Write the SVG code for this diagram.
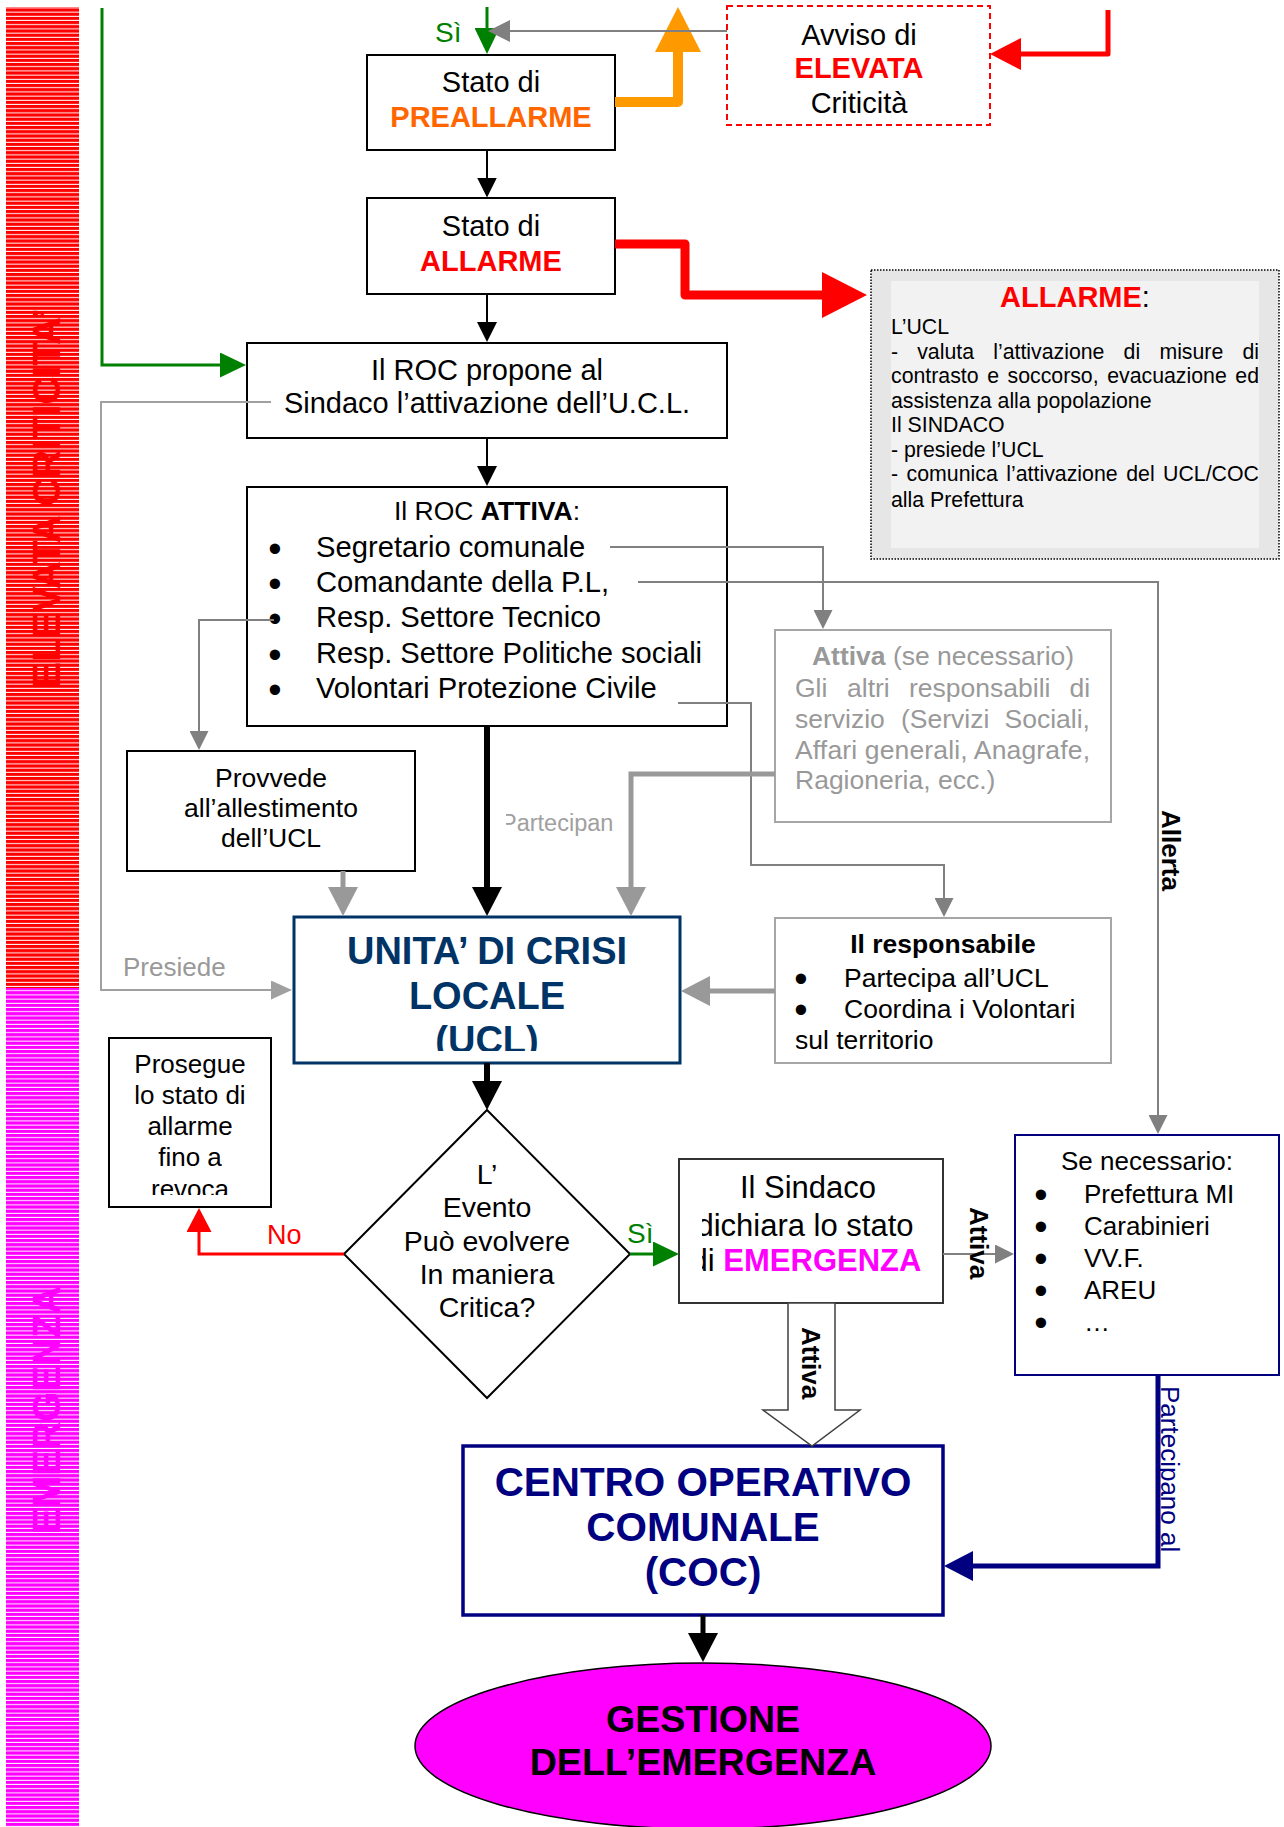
<svg xmlns="http://www.w3.org/2000/svg" width="1284" height="1827" viewBox="0 0 1284 1827">
  <style>
    text { font-family: "Liberation Sans", Arial, sans-serif; fill: #000; }
    .b { font-weight: bold; }
    .mid { text-anchor: middle; }
    .box { fill: #fff; stroke: #000; stroke-width: 2; }
    .gbox { fill: #fff; stroke: #a6a6a6; stroke-width: 2; }
    .ln { fill: none; stroke-linejoin: miter; }
    .thin-k { stroke: #000; stroke-width: 2; }
    .thick-k { stroke: #000; stroke-width: 6; }
    .thin-g { stroke: #808080; stroke-width: 2; }
    .thin-lg { stroke: #a0a0a0; stroke-width: 2; }
    .thick-g { stroke: #999; stroke-width: 5; }
    .grn { stroke: #008000; stroke-width: 3; }
    .gray-t { fill: #999; }
    .bul { font-size: 38px; }
  </style>
  <defs>
    <pattern id="stripes-red" width="10" height="4.2" patternUnits="userSpaceOnUse">
      <rect width="10" height="4.2" fill="#ff0000"/>
      <rect y="3.2" width="10" height="1" fill="#fff"/>
    </pattern>
    <pattern id="stripes-mag" width="10" height="4.2" patternUnits="userSpaceOnUse">
      <rect width="10" height="4.2" fill="#ff00ff"/>
      <rect y="3.2" width="10" height="1" fill="#fff"/>
    </pattern>
    <marker id="m-blk" markerUnits="userSpaceOnUse" markerWidth="20" markerHeight="20" viewBox="0 -10 20 20" refX="0.5" refY="0" orient="auto"><path d="M0,-10 L20,0 L0,10 z" fill="#000"/></marker>
    <marker id="m-blk-big" markerUnits="userSpaceOnUse" markerWidth="29" markerHeight="30" viewBox="0 -15 29 30" refX="0.5" refY="0" orient="auto"><path d="M0,-15 L29,0 L0,15 z" fill="#000"/></marker>
    <marker id="m-gry" markerUnits="userSpaceOnUse" markerWidth="19" markerHeight="19" viewBox="0 -9.5 19 19" refX="0.5" refY="0" orient="auto"><path d="M0,-9.5 L19,0 L0,9.5 z" fill="#808080"/></marker>
    <marker id="m-gry-top" markerUnits="userSpaceOnUse" markerWidth="22" markerHeight="22" viewBox="0 -11 22 22" refX="0.5" refY="0" orient="auto"><path d="M0,-11 L22,0 L0,11 z" fill="#808080"/></marker>
    <marker id="m-gry-lt" markerUnits="userSpaceOnUse" markerWidth="21" markerHeight="19" viewBox="0 -9.5 21 19" refX="0.5" refY="0" orient="auto"><path d="M0,-9.5 L21,0 L0,9.5 z" fill="#a0a0a0"/></marker>
    <marker id="m-gry-big" markerUnits="userSpaceOnUse" markerWidth="29" markerHeight="30" viewBox="0 -15 29 30" refX="0.5" refY="0" orient="auto"><path d="M0,-15 L29,0 L0,15 z" fill="#999"/></marker>
    <marker id="m-grn" markerUnits="userSpaceOnUse" markerWidth="26" markerHeight="25" viewBox="0 -12.5 26 25" refX="0.5" refY="0" orient="auto"><path d="M0,-12.5 L26,0 L0,12.5 z" fill="#008000"/></marker>
    <marker id="m-red" markerUnits="userSpaceOnUse" markerWidth="24" markerHeight="25" viewBox="0 -12.5 24 25" refX="0.5" refY="0" orient="auto"><path d="M0,-12.5 L24,0 L0,12.5 z" fill="#ff0000"/></marker>
    <marker id="m-red-mid" markerUnits="userSpaceOnUse" markerWidth="31" markerHeight="32" viewBox="0 -16 31 32" refX="0.5" refY="0" orient="auto"><path d="M0,-16 L31,0 L0,16 z" fill="#ff0000"/></marker>
    <marker id="m-red-big" markerUnits="userSpaceOnUse" markerWidth="45" markerHeight="46" viewBox="0 -23 45 46" refX="0.5" refY="0" orient="auto"><path d="M0,-23 L45,0 L0,23 z" fill="#ff0000"/></marker>
    <marker id="m-org" markerUnits="userSpaceOnUse" markerWidth="45" markerHeight="46" viewBox="0 -23 45 46" refX="0.5" refY="0" orient="auto"><path d="M0,-23 L45,0 L0,23 z" fill="#ff9900"/></marker>
    <marker id="m-navy" markerUnits="userSpaceOnUse" markerWidth="29" markerHeight="30" viewBox="0 -15 29 30" refX="0.5" refY="0" orient="auto"><path d="M0,-15 L29,0 L0,15 z" fill="#000080"/></marker>
    <clipPath id="clip-ucl"><rect x="294" y="917" width="386" height="134"/></clipPath>
    <clipPath id="clip-prosegue"><rect x="109" y="1038" width="162" height="157"/></clipPath>
    <clipPath id="clip-sindaco"><rect x="702" y="1159" width="241" height="144"/></clipPath>
    <clipPath id="clip-partecipan"><rect x="506" y="790" width="120" height="60"/></clipPath>
  </defs>

  <rect width="1284" height="1827" fill="#fff"/>

  <!-- side bands -->
  <g id="band-elevata">
    <rect x="6" y="7" width="73" height="981" fill="url(#stripes-red)"/>
    <text transform="translate(60 498) rotate(-90)" class="b mid" font-size="38.8" style="fill:#ff0000">ELEVATA CRITICITA’</text>
  </g>
  <g id="band-emergenza">
    <rect x="6" y="988" width="73" height="839" fill="url(#stripes-mag)"/>
    <text transform="translate(60 1410) rotate(-90)" class="b mid" font-size="38.8" style="fill:#ff00ff">EMERGENZA</text>
  </g>

  <!-- nodes -->
  <g id="preallarme">
    <rect class="box" x="367" y="55" width="248" height="95"/>
    <text class="mid" x="491" y="92" font-size="29">Stato di</text>
    <text class="mid b" x="491" y="127" font-size="29" style="fill:#ff6600">PREALLARME</text>
  </g>

  <g id="avviso">
    <rect x="727" y="6" width="263" height="119" fill="#fff" stroke="#ff0000" stroke-width="2" stroke-dasharray="6 4"/>
    <text class="mid" x="859" y="45" font-size="29">Avviso di</text>
    <text class="mid b" x="859" y="78" font-size="29" style="fill:#ff0000">ELEVATA</text>
    <text class="mid" x="859" y="113" font-size="29">Criticità</text>
  </g>

  <g id="allarme">
    <rect class="box" x="367" y="198" width="248" height="96"/>
    <text class="mid" x="491" y="236" font-size="29">Stato di</text>
    <text class="mid b" x="491" y="271" font-size="29" style="fill:#ff0000">ALLARME</text>
  </g>

  <g id="allarme-note">
    <rect x="871" y="270" width="408" height="289" fill="#e6e6e6" stroke="#000" stroke-width="1.5" stroke-dasharray="1.5 1.5"/>
    <rect x="891" y="281" width="368" height="267" fill="#f2f2f2"/>
    <text class="mid" x="1075" y="307" font-size="29"><tspan class="b" style="fill:#ff0000">ALLARME</tspan>:</text>
    <text font-size="21.3">
      <tspan x="891" y="334">L’UCL</tspan>
      <tspan x="891" y="359">-</tspan><tspan x="917.2" y="359">valuta</tspan><tspan x="993.2" y="359">l’attivazione</tspan><tspan x="1123.6" y="359">di</tspan><tspan x="1159.4" y="359">misure</tspan><tspan x="1242.4" y="359">di</tspan>
      <tspan x="891" y="383">contrasto</tspan><tspan x="987.2" y="383">e</tspan><tspan x="1007.5" y="383">soccorso,</tspan><tspan x="1107.2" y="383">evacuazione</tspan><tspan x="1235.3" y="383">ed</tspan>
      <tspan x="891" y="408">assistenza alla popolazione</tspan>
      <tspan x="891" y="432">Il SINDACO</tspan>
      <tspan x="891" y="457">- presiede l’UCL</tspan>
      <tspan x="891" y="481">-</tspan><tspan x="906.6" y="481">comunica</tspan><tspan x="1006.3" y="481">l’attivazione</tspan><tspan x="1126.2" y="481">del</tspan><tspan x="1163.1" y="481">UCL/COC</tspan>
      <tspan x="891" y="507">alla Prefettura</tspan>
    </text>
  </g>

  <g id="roc-propone">
    <rect class="box" x="247" y="343" width="480" height="95"/>
    <text class="mid" x="487" y="380" font-size="29">Il ROC propone al</text>
    <text class="mid" x="487" y="413" font-size="29">Sindaco l’attivazione dell’U.C.L.</text>
  </g>

  <g id="roc-attiva">
    <rect class="box" x="247" y="487" width="480" height="239"/>
    <text class="mid" x="487" y="520" font-size="26.5">Il ROC <tspan class="b">ATTIVA</tspan>:</text>
    <g class="bul">
      <text class="mid" x="275" y="562">•</text>
      <text class="mid" x="275" y="597">•</text>
      <text class="mid" x="275" y="632">•</text>
      <text class="mid" x="275" y="668">•</text>
      <text class="mid" x="275" y="703">•</text>
    </g>
    <g font-size="29.2">
      <text x="316" y="557">Segretario comunale</text>
      <text x="316" y="592">Comandante della P.L,</text>
      <text x="316" y="627">Resp. Settore Tecnico</text>
      <text x="316" y="663">Resp. Settore Politiche sociali</text>
      <text x="316" y="698">Volontari Protezione Civile</text>
    </g>
  </g>

  <g id="attiva-altri">
    <rect class="gbox" x="775" y="630" width="336" height="192"/>
    <text class="mid gray-t" x="943" y="665" font-size="26.5"><tspan class="b">Attiva</tspan> (se necessario)</text>
    <text class="gray-t" font-size="26.5">
      <tspan x="795" y="697">Gli</tspan><tspan x="847" y="697">altri</tspan><tspan x="909" y="697">responsabili</tspan><tspan x="1069.5" y="697">di</tspan>
      <tspan x="795" y="728">servizio</tspan><tspan x="901" y="728">(Servizi</tspan><tspan x="1004.5" y="728">Sociali,</tspan>
    </text>
    <text class="gray-t" font-size="26.5" x="795" y="759" textLength="295" lengthAdjust="spacing">Affari generali, Anagrafe,</text>
    <text class="gray-t" font-size="26.5" x="795" y="789">Ragioneria, ecc.)</text>
  </g>

  <g id="provvede">
    <rect class="box" x="127" y="751" width="288" height="120"/>
    <text class="mid" x="271" y="787" font-size="26.5">Provvede</text>
    <text class="mid" x="271" y="817" font-size="26.5">all’allestimento</text>
    <text class="mid" x="271" y="847" font-size="26.5">dell’UCL</text>
  </g>

  <g id="ucl">
    <rect x="294" y="917" width="386" height="146" fill="#fff" stroke="#003366" stroke-width="3"/>
    <g clip-path="url(#clip-ucl)" class="b mid" font-size="38">
      <text x="487" y="964" style="fill:#003366">UNITA’ DI CRISI</text>
      <text x="487" y="1009" style="fill:#003366">LOCALE</text>
      <text x="487" y="1053" style="fill:#003366">(UCL)</text>
    </g>
  </g>

  <g id="responsabile">
    <rect class="gbox" x="775" y="918" width="336" height="145"/>
    <text class="mid b" x="943" y="953" font-size="26.5">Il responsabile</text>
    <g class="bul" font-size="34">
      <text class="mid" x="801" y="992">•</text>
      <text class="mid" x="801" y="1023">•</text>
    </g>
    <text x="844" y="987" font-size="26.5">Partecipa all’UCL</text>
    <text x="844" y="1018" font-size="26.5">Coordina i Volontari</text>
    <text x="795" y="1049" font-size="26.5">sul territorio</text>
  </g>

  <g id="prosegue">
    <rect class="box" x="109" y="1038" width="162" height="169"/>
    <g clip-path="url(#clip-prosegue)" font-size="26">
      <text class="mid" x="190" y="1073">Prosegue</text>
      <text class="mid" x="190" y="1104">lo stato di</text>
      <text class="mid" x="190" y="1135">allarme</text>
      <text class="mid" x="190" y="1166">fino a</text>
      <text class="mid" x="190" y="1198">revoca</text>
    </g>
  </g>

  <g id="decisione">
    <polygon points="487,1110 630,1254 487,1398 344,1254" fill="#fff" stroke="#000" stroke-width="2"/>
    <g font-size="28.5">
      <text class="mid" x="487" y="1184">L’</text>
      <text class="mid" x="487" y="1217">Evento</text>
      <text class="mid" x="487" y="1251">Può evolvere</text>
      <text class="mid" x="487" y="1284">In maniera</text>
      <text class="mid" x="487" y="1317">Critica?</text>
    </g>
  </g>

  <g id="sindaco">
    <rect x="679" y="1159" width="264" height="144" fill="#fff" stroke="#333" stroke-width="2"/>
    <g clip-path="url(#clip-sindaco)" font-size="31">
      <text class="mid" x="808" y="1198">Il Sindaco</text>
      <text class="mid" x="805" y="1236">dichiara lo stato</text>
      <text class="mid" x="806" y="1271">di <tspan class="b" style="fill:#ff00ff">EMERGENZA</tspan></text>
    </g>
  </g>

  <g id="enti">
    <rect x="1015" y="1135" width="264" height="240" fill="#fff" stroke="#000080" stroke-width="2"/>
    <text class="mid" x="1147" y="1170" font-size="26">Se necessario:</text>
    <g class="bul" font-size="34">
      <text class="mid" x="1041" y="1208">•</text>
      <text class="mid" x="1041" y="1240">•</text>
      <text class="mid" x="1041" y="1272">•</text>
      <text class="mid" x="1041" y="1304">•</text>
      <text class="mid" x="1041" y="1336">•</text>
    </g>
    <g font-size="26">
      <text x="1084" y="1203">Prefettura MI</text>
      <text x="1084" y="1235">Carabinieri</text>
      <text x="1084" y="1267">VV.F.</text>
      <text x="1084" y="1299">AREU</text>
      <text x="1084" y="1331">…</text>
    </g>
  </g>

  <g id="coc">
    <rect x="463" y="1446" width="480" height="169" fill="#fff" stroke="#000080" stroke-width="3.5"/>
    <g class="b mid" font-size="40.4">
      <text x="703" y="1496" style="fill:#000080">CENTRO OPERATIVO</text>
      <text x="703" y="1541" style="fill:#000080">COMUNALE</text>
      <text x="703" y="1586" style="fill:#000080">(COC)</text>
    </g>
  </g>

  <g id="gestione">
    <ellipse cx="703" cy="1746" rx="288" ry="83" fill="#ff00ff" stroke="#000" stroke-width="1.5"/>
    <text class="mid b" x="703" y="1732" font-size="37.6">GESTIONE</text>
    <text class="mid b" x="703" y="1775" font-size="37.6">DELL’EMERGENZA</text>
  </g>

  <!-- connectors -->
  <g id="connectors">
    <!-- entry flows -->
    <path class="ln grn" d="M102,8 V365 H220.5" marker-end="url(#m-grn)"/>
    <path class="ln grn" d="M487,7 V28.5" marker-end="url(#m-grn)"/>
    <text x="435" y="42" font-size="28" style="fill:#008000">Sì</text>
    <path d="M615,102 H678 V51.5" fill="none" stroke="#ff9900" stroke-width="10" stroke-linejoin="round" marker-end="url(#m-org)"/>
    <path class="ln thin-g" d="M727,31 H509.5" marker-end="url(#m-gry-top)"/>
    <path d="M1108,10 V54 H1020.5" fill="none" stroke="#ff0000" stroke-width="5" stroke-linejoin="round" marker-end="url(#m-red-mid)"/>
    <path d="M615,244 H685 V295 H822.5" fill="none" stroke="#ff0000" stroke-width="9" stroke-linejoin="round" marker-end="url(#m-red-big)"/>

    <!-- main chain -->
    <path class="ln thin-k" d="M487,150 V178" marker-end="url(#m-blk)"/>
    <path class="ln thin-k" d="M487,294 V322.5" marker-end="url(#m-blk)"/>
    <path class="ln thin-k" d="M487,438 V466.5" marker-end="url(#m-blk)"/>
    <path class="ln thick-k" d="M487,726 V887.5" marker-end="url(#m-blk-big)"/>
    <path class="ln thick-k" d="M487,1063 V1081.5" marker-end="url(#m-blk-big)"/>
    <path class="ln" d="M703,1615 V1633.5" stroke="#000" stroke-width="5" marker-end="url(#m-blk-big)"/>

    <!-- presiede -->
    <path class="ln thin-lg" d="M271,402 H101 V990 H271.5" marker-end="url(#m-gry-lt)"/>
    <text x="123" y="976" font-size="26" style="fill:#999">Presiede</text>

    <!-- members of the ROC list -->
    <path class="ln thin-g" d="M610,547 H823 V610.5" marker-end="url(#m-gry)"/>
    <path class="ln thin-g" d="M638,582 H1158 V1115.5" marker-end="url(#m-gry)"/>
    <text transform="translate(1162 810) rotate(90)" class="b" font-size="26">Allerta</text>
    <path class="ln thin-g" d="M274,620 H199 V731.5" marker-end="url(#m-gry)"/>
    <path class="ln thin-g" d="M678,703 H751 V865 H944 V898.5" marker-end="url(#m-gry)"/>

    <!-- participation into the UCL -->
    <path class="ln thick-g" d="M343,871 V887.5" marker-end="url(#m-gry-big)"/>
    <path class="ln thick-g" d="M775,774 H631 V887.5" marker-end="url(#m-gry-big)"/>
    <path class="ln thick-g" d="M775,991 H709.5" marker-end="url(#m-gry-big)"/>
    <text clip-path="url(#clip-partecipan)" x="501" y="831" font-size="23.5" style="fill:#a0a0a0">Partecipan</text>

    <!-- decision outcomes -->
    <path d="M344,1254 H199 V1231.5" fill="none" stroke="#ff0000" stroke-width="3" marker-end="url(#m-red)"/>
    <text x="267" y="1244" font-size="27" style="fill:#ff0000">No</text>
    <path class="ln grn" d="M630,1254 H653.5" marker-end="url(#m-grn)"/>
    <text x="627" y="1243" font-size="28" style="fill:#008000">Sì</text>

    <!-- emergency activation -->
    <path class="ln thin-g" d="M943,1254 H995.5" marker-end="url(#m-gry)"/>
    <text transform="translate(970 1207) rotate(90)" class="b" font-size="26">Attiva</text>
    <polygon points="788,1303 788,1410 763,1410 812,1446 860,1410 835,1410 835,1303" fill="#fff" stroke="#404040" stroke-width="1.5"/>
    <text transform="translate(802 1327) rotate(90)" class="b" font-size="26">Attiva</text>
    <path d="M1158,1375 V1566 H972.5" fill="none" stroke="#000080" stroke-width="5" marker-end="url(#m-navy)"/>
    <text transform="translate(1161 1386) rotate(90)" font-size="26" style="fill:#000080">Partecipano al</text>
  </g>
</svg>
